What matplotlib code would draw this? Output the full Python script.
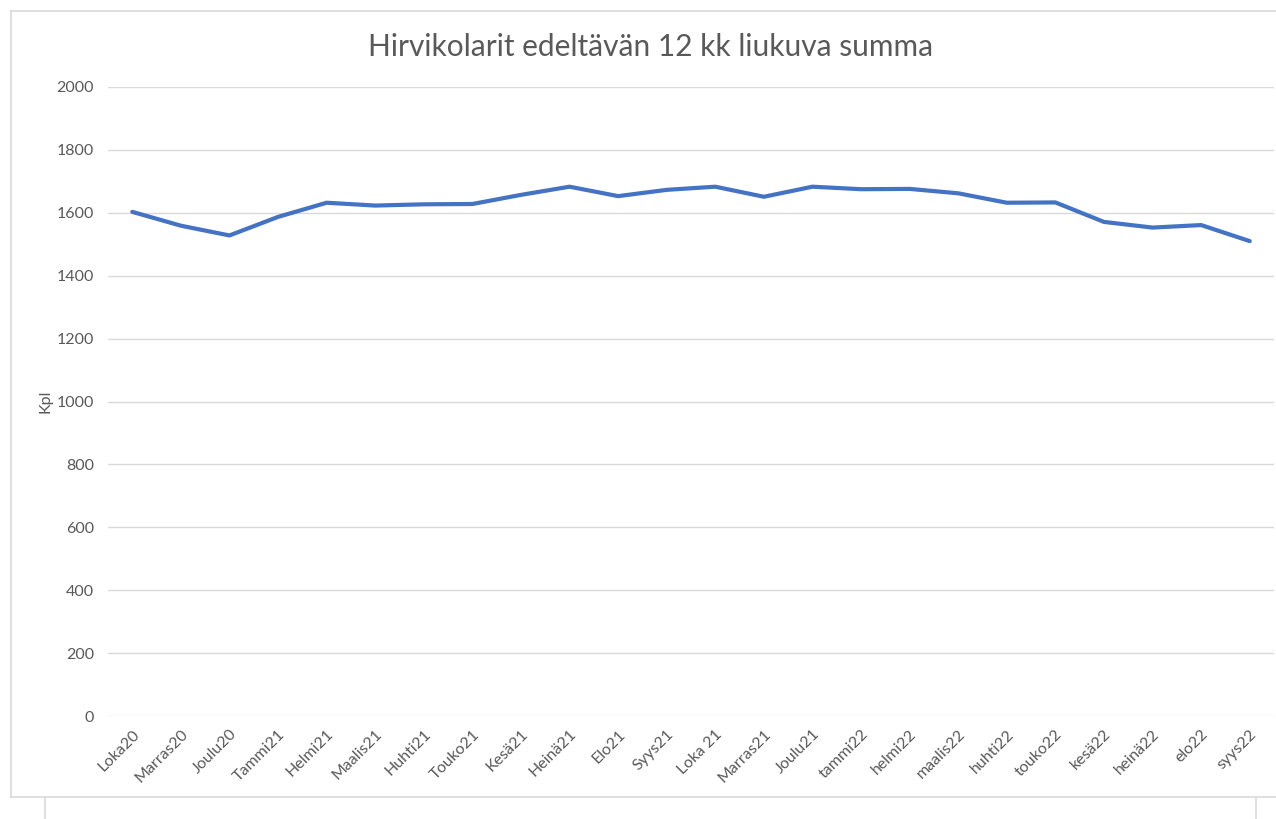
import numpy as np
import matplotlib.pyplot as plt
from matplotlib.lines import Line2D

# 12 month rolling sum of moose collisions
months = ['Loka20', 'Marras20', 'Joulu20', 'Tammi21', 'Helmi21', 'Maalis21',
          'Huhti21', 'Touko21', 'Kesä21', 'Heinä21', 'Elo21', 'Syys21',
          'Loka 21', 'Marras21', 'Joulu21', 'tammi22', 'helmi22', 'maalis22',
          'huhti22', 'touko22', 'kesä22', 'heinä22', 'elo22', 'syys22']
values = [1603, 1559, 1528, 1587, 1632, 1623, 1627, 1628, 1657, 1683, 1653, 1673,
          1683, 1651, 1683, 1675, 1676, 1662, 1632, 1633, 1571, 1553, 1561, 1510]
yticks = [0, 200, 400, 600, 800, 1000, 1200, 1400, 1600, 1800, 2000]

W, H = 1276, 819
plt.rcParams['font.family'] = ['Lato', 'DejaVu Sans']
txt = '#595959'

fig = plt.figure(figsize=(W / 100, H / 100), dpi=100)
ax = fig.add_axes([108 / W, 1 - 716 / H, (1274 - 108) / W, (716 - 87) / H])

x = np.arange(len(months))
ax.plot(x, values, color='#4472C4', lw=3, solid_capstyle='round', solid_joinstyle='round', zorder=3)

ax.set_xlim(-0.5, len(months) - 0.5)
ax.set_ylim(0, 2000)
ax.set_yticks(yticks)
ax.set_xticks(x)
ax.set_xticklabels(months, rotation=45, ha='right', rotation_mode='anchor')
ax.grid(axis='y', color='#D9D9D9', lw=1)
ax.set_axisbelow(True)
ax.tick_params(axis='both', length=0, labelsize=11.5, colors=txt)
ax.tick_params(axis='y', pad=10)
ax.tick_params(axis='x', pad=8)
for s in ax.spines.values():
    s.set_visible(False)

ax.set_ylabel('Kpl', fontsize=11.5, color=txt)
ax.yaxis.set_label_coords(-(108 - 52) / (1274 - 108), 0.5)
fig.text(651 / W, 1 - 47 / H, 'Hirvikolarit edeltävän 12 kk liukuva summa',
         ha='center', va='center', fontsize=21.5, color=txt)

# chart frame from the screenshot
fc = '#D9D9D9'
def px_line(xs, ys):
    fig.add_artist(Line2D([v / W for v in xs], [1 - v / H for v in ys],
                          color=fc, lw=1.2, transform=fig.transFigure))

px_line([11, 1276], [11, 11])
px_line([11, 11], [11, 797])
px_line([11, 1276], [797, 797])
px_line([45, 45], [797, 819])
px_line([1256, 1256], [797, 819])

fig.savefig('out.png', dpi=100, facecolor='white')
